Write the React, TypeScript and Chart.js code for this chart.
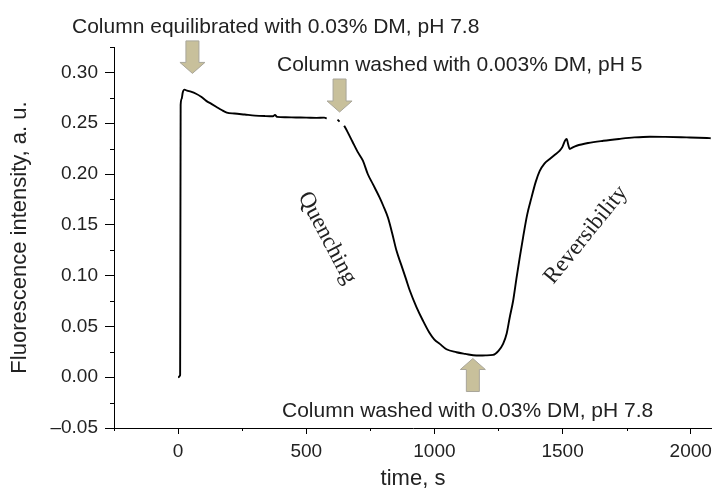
import React, { useEffect, useRef } from "react";
import { Chart, registerables } from "chart.js";

Chart.register(...registerables);

// ---- data ----
const timeS: number[] = [
  0, 8, 10, 14, 18, 25, 35, 50, 70, 90, 110, 130, 150, 170, 190, 220, 260, 300, 340, 370, 378, 386, 420, 460, 500, 540, 570, 580,
  600, 622, 630, 640,
  648, 660, 680, 700, 721, 740, 760, 786, 800, 819, 835, 852, 870, 890, 904, 930, 955, 980, 1000, 1021, 1047, 1086, 1120, 1164,
  1200, 1229, 1250, 1268, 1282, 1294, 1307, 1320, 1333, 1346, 1362, 1379, 1395, 1411, 1430, 1450, 1470, 1489, 1500, 1510, 1516,
  1522, 1528, 1540, 1555, 1600, 1659, 1720, 1780, 1841, 1900, 1984, 2030, 2063, 2078,
];
const intensity: (number | null)[] = [
  0.0, 0.002, 0.268, 0.274, 0.28, 0.283, 0.282, 0.281, 0.279, 0.276, 0.272, 0.269, 0.266, 0.263, 0.2605, 0.2595, 0.2585, 0.2575,
  0.257, 0.2568, 0.2582, 0.2562, 0.2558, 0.2556, 0.2555, 0.2552, 0.2555, 0.2548,
  null, 0.2535, 0.2515, null,
  0.2475, 0.242, 0.232, 0.222, 0.2131, 0.2, 0.19, 0.177, 0.169, 0.157, 0.142, 0.1246, 0.111, 0.096, 0.0853, 0.069, 0.0558, 0.044,
  0.037, 0.0328, 0.0275, 0.0246, 0.023, 0.0213, 0.0215, 0.022, 0.026, 0.0328, 0.043, 0.059, 0.075, 0.097, 0.118, 0.1377, 0.16,
  0.177, 0.192, 0.203, 0.2105, 0.2148, 0.219, 0.2229, 0.227, 0.233, 0.2344, 0.229, 0.2246, 0.2262, 0.2278, 0.2305, 0.2327,
  0.2345, 0.236, 0.2367, 0.2365, 0.236, 0.2357, 0.2354, 0.2352,
];

const xMajorTicks: number[] = [0, 500, 1000, 1500, 2000];
const xMinorTicks: number[] = [-250, 250, 750, 1250, 1750];
const yMajorTicks: number[] = [-0.05, 0, 0.05, 0.1, 0.15, 0.2, 0.25, 0.3];
const yMinorTicks: number[] = [-0.025, 0.025, 0.075, 0.125, 0.175, 0.225, 0.275, 0.325];

const xTitle = "time, s";
const yTitle = "Fluorescence intensity, a. u.";

// annotation arrows: time position, tail value, tip value
const arrowTimes: number[] = [56, 630, 1150];
const arrowTails: number[] = [0.331, 0.2935, -0.0141];
const arrowTips: number[] = [0.299, 0.261, 0.0184];

const noteTexts: string[] = [
  "Column equilibrated with 0.03% DM, pH 7.8",
  "Column washed with 0.003% DM, pH 5",
  "Column washed with 0.03% DM, pH 7.8",
];
const phaseTexts: string[] = ["Quenching", "Reversibility"];

const SANS = "'Liberation Sans', Arial, sans-serif";
const SERIF = "'Liberation Serif', 'Times New Roman', serif";

const annotationsPlugin = {
  id: "annotations",
  afterDraw(chart: any) {
    const { ctx, scales } = chart;
    const xs = scales.x;
    const ys = scales.y;
    ctx.save();
    // minor ticks
    ctx.strokeStyle = "#000";
    ctx.lineWidth = 1;
    ctx.beginPath();
    for (const v of yMinorTicks) {
      const py = Math.round(ys.getPixelForValue(v)) + 0.5;
      ctx.moveTo(xs.left - 4, py);
      ctx.lineTo(xs.left, py);
    }
    for (const v of xMinorTicks) {
      const px = Math.round(xs.getPixelForValue(v)) + 0.5;
      ctx.moveTo(px, ys.bottom);
      ctx.lineTo(px, ys.bottom + 3);
    }
    ctx.stroke();

    // arrows
    const shaftW = 13;
    const headW = 25;
    const headL = 11;
    for (let i = 0; i < arrowTimes.length; i++) {
      const cx = xs.getPixelForValue(arrowTimes[i]);
      const tail = ys.getPixelForValue(arrowTails[i]);
      const tip = ys.getPixelForValue(arrowTips[i]);
      const dir = tip > tail ? 1 : -1;
      const base = tip - dir * headL;
      ctx.beginPath();
      ctx.moveTo(cx - shaftW / 2, tail);
      ctx.lineTo(cx + shaftW / 2, tail);
      ctx.lineTo(cx + shaftW / 2, base);
      ctx.lineTo(cx + headW / 2, base);
      ctx.lineTo(cx, tip);
      ctx.lineTo(cx - headW / 2, base);
      ctx.lineTo(cx - shaftW / 2, base);
      ctx.closePath();
      ctx.fillStyle = "#c8c09b";
      ctx.fill();
      ctx.strokeStyle = "#a9a69a";
      ctx.lineWidth = 1;
      ctx.stroke();
    }

    // notes
    ctx.fillStyle = "#222";
    ctx.font = `21px ${SANS}`;
    ctx.textAlign = "left";
    ctx.textBaseline = "alphabetic";
    ctx.fillText(noteTexts[0], 72, 33);
    ctx.fillText(noteTexts[1], 277, 70.5);
    ctx.fillText(noteTexts[2], 282, 417);

    // phase labels
    ctx.font = `23px ${SERIF}`;
    ctx.textAlign = "center";
    ctx.textBaseline = "middle";
    ctx.save();
    ctx.translate(327, 238);
    ctx.rotate((62 * Math.PI) / 180);
    ctx.fillText(phaseTexts[0], 0, 0);
    ctx.restore();
    ctx.save();
    ctx.translate(586, 235);
    ctx.rotate((-51 * Math.PI) / 180);
    ctx.fillText(phaseTexts[1], 0, 0);
    ctx.restore();

    ctx.restore();
  },
};

export default function App() {
  const ref = useRef<HTMLCanvasElement | null>(null);
  useEffect(() => {
    if (!ref.current) return;
    const points = timeS.map((t, i) => ({ x: t, y: intensity[i] }));
    const chart = new Chart(ref.current, {
      type: "line",
      data: {
        datasets: [
          {
            data: points as any,
            borderColor: "#000",
            borderWidth: 1.9,
            pointRadius: 0,
            cubicInterpolationMode: "monotone",
            spanGaps: false,
            fill: false,
          },
        ],
      },
      options: {
        animation: false,
        responsive: false,
        events: [],
        layout: { padding: { top: 47, left: 0, right: 0, bottom: 0 } },
        plugins: { legend: { display: false }, tooltip: { enabled: false } },
        scales: {
          x: {
            type: "linear",
            min: -250,
            max: 2083,
            afterBuildTicks: (s: any) => {
              s.ticks = xMajorTicks.map((v) => ({ value: v }));
            },
            afterFit: (s: any) => {
              s.height = 67;
              s.paddingLeft = 0;
              s.paddingRight = 0;
            },
            grid: { display: true, drawOnChartArea: false, drawTicks: true, tickLength: 6, tickColor: "#000" },
            border: { display: true, color: "#000", width: 1 },
            ticks: {
              color: "#222",
              font: { family: SANS, size: 19 },
              padding: 6,
              maxRotation: 0,
              autoSkip: false,
              callback: (v: any) => String(v),
            },
            title: { display: true, text: xTitle, color: "#222", font: { family: SANS, size: 22 }, padding: { top: 0, bottom: 3 } },
          },
          y: {
            type: "linear",
            min: -0.05,
            max: 0.325,
            afterBuildTicks: (s: any) => {
              s.ticks = yMajorTicks.map((v) => ({ value: v }));
            },
            afterFit: (s: any) => {
              s.width = 114;
              s.paddingTop = 0;
              s.paddingBottom = 0;
            },
            grid: { display: true, drawOnChartArea: false, drawTicks: true, tickLength: 9, tickColor: "#000" },
            border: { display: true, color: "#000", width: 1 },
            ticks: {
              color: "#222",
              font: { family: SANS, size: 19 },
              padding: 7,
              autoSkip: false,
              callback: (v: any) => (v < 0 ? "\u2013" + Math.abs(v).toFixed(2) : Number(v).toFixed(2)),
            },
            title: { display: true, text: yTitle, color: "#222", font: { family: SANS, size: 22 }, padding: { top: 7, bottom: 0 } },
          },
        },
      },
      plugins: [annotationsPlugin],
    });
    return () => chart.destroy();
  }, []);
  return (
    <div style={{ position: "absolute", left: 0, top: 0, width: 712, height: 495, background: "#fff" }}>
      <canvas ref={ref} width={712} height={495} style={{ display: "block" }} />
    </div>
  );
}
